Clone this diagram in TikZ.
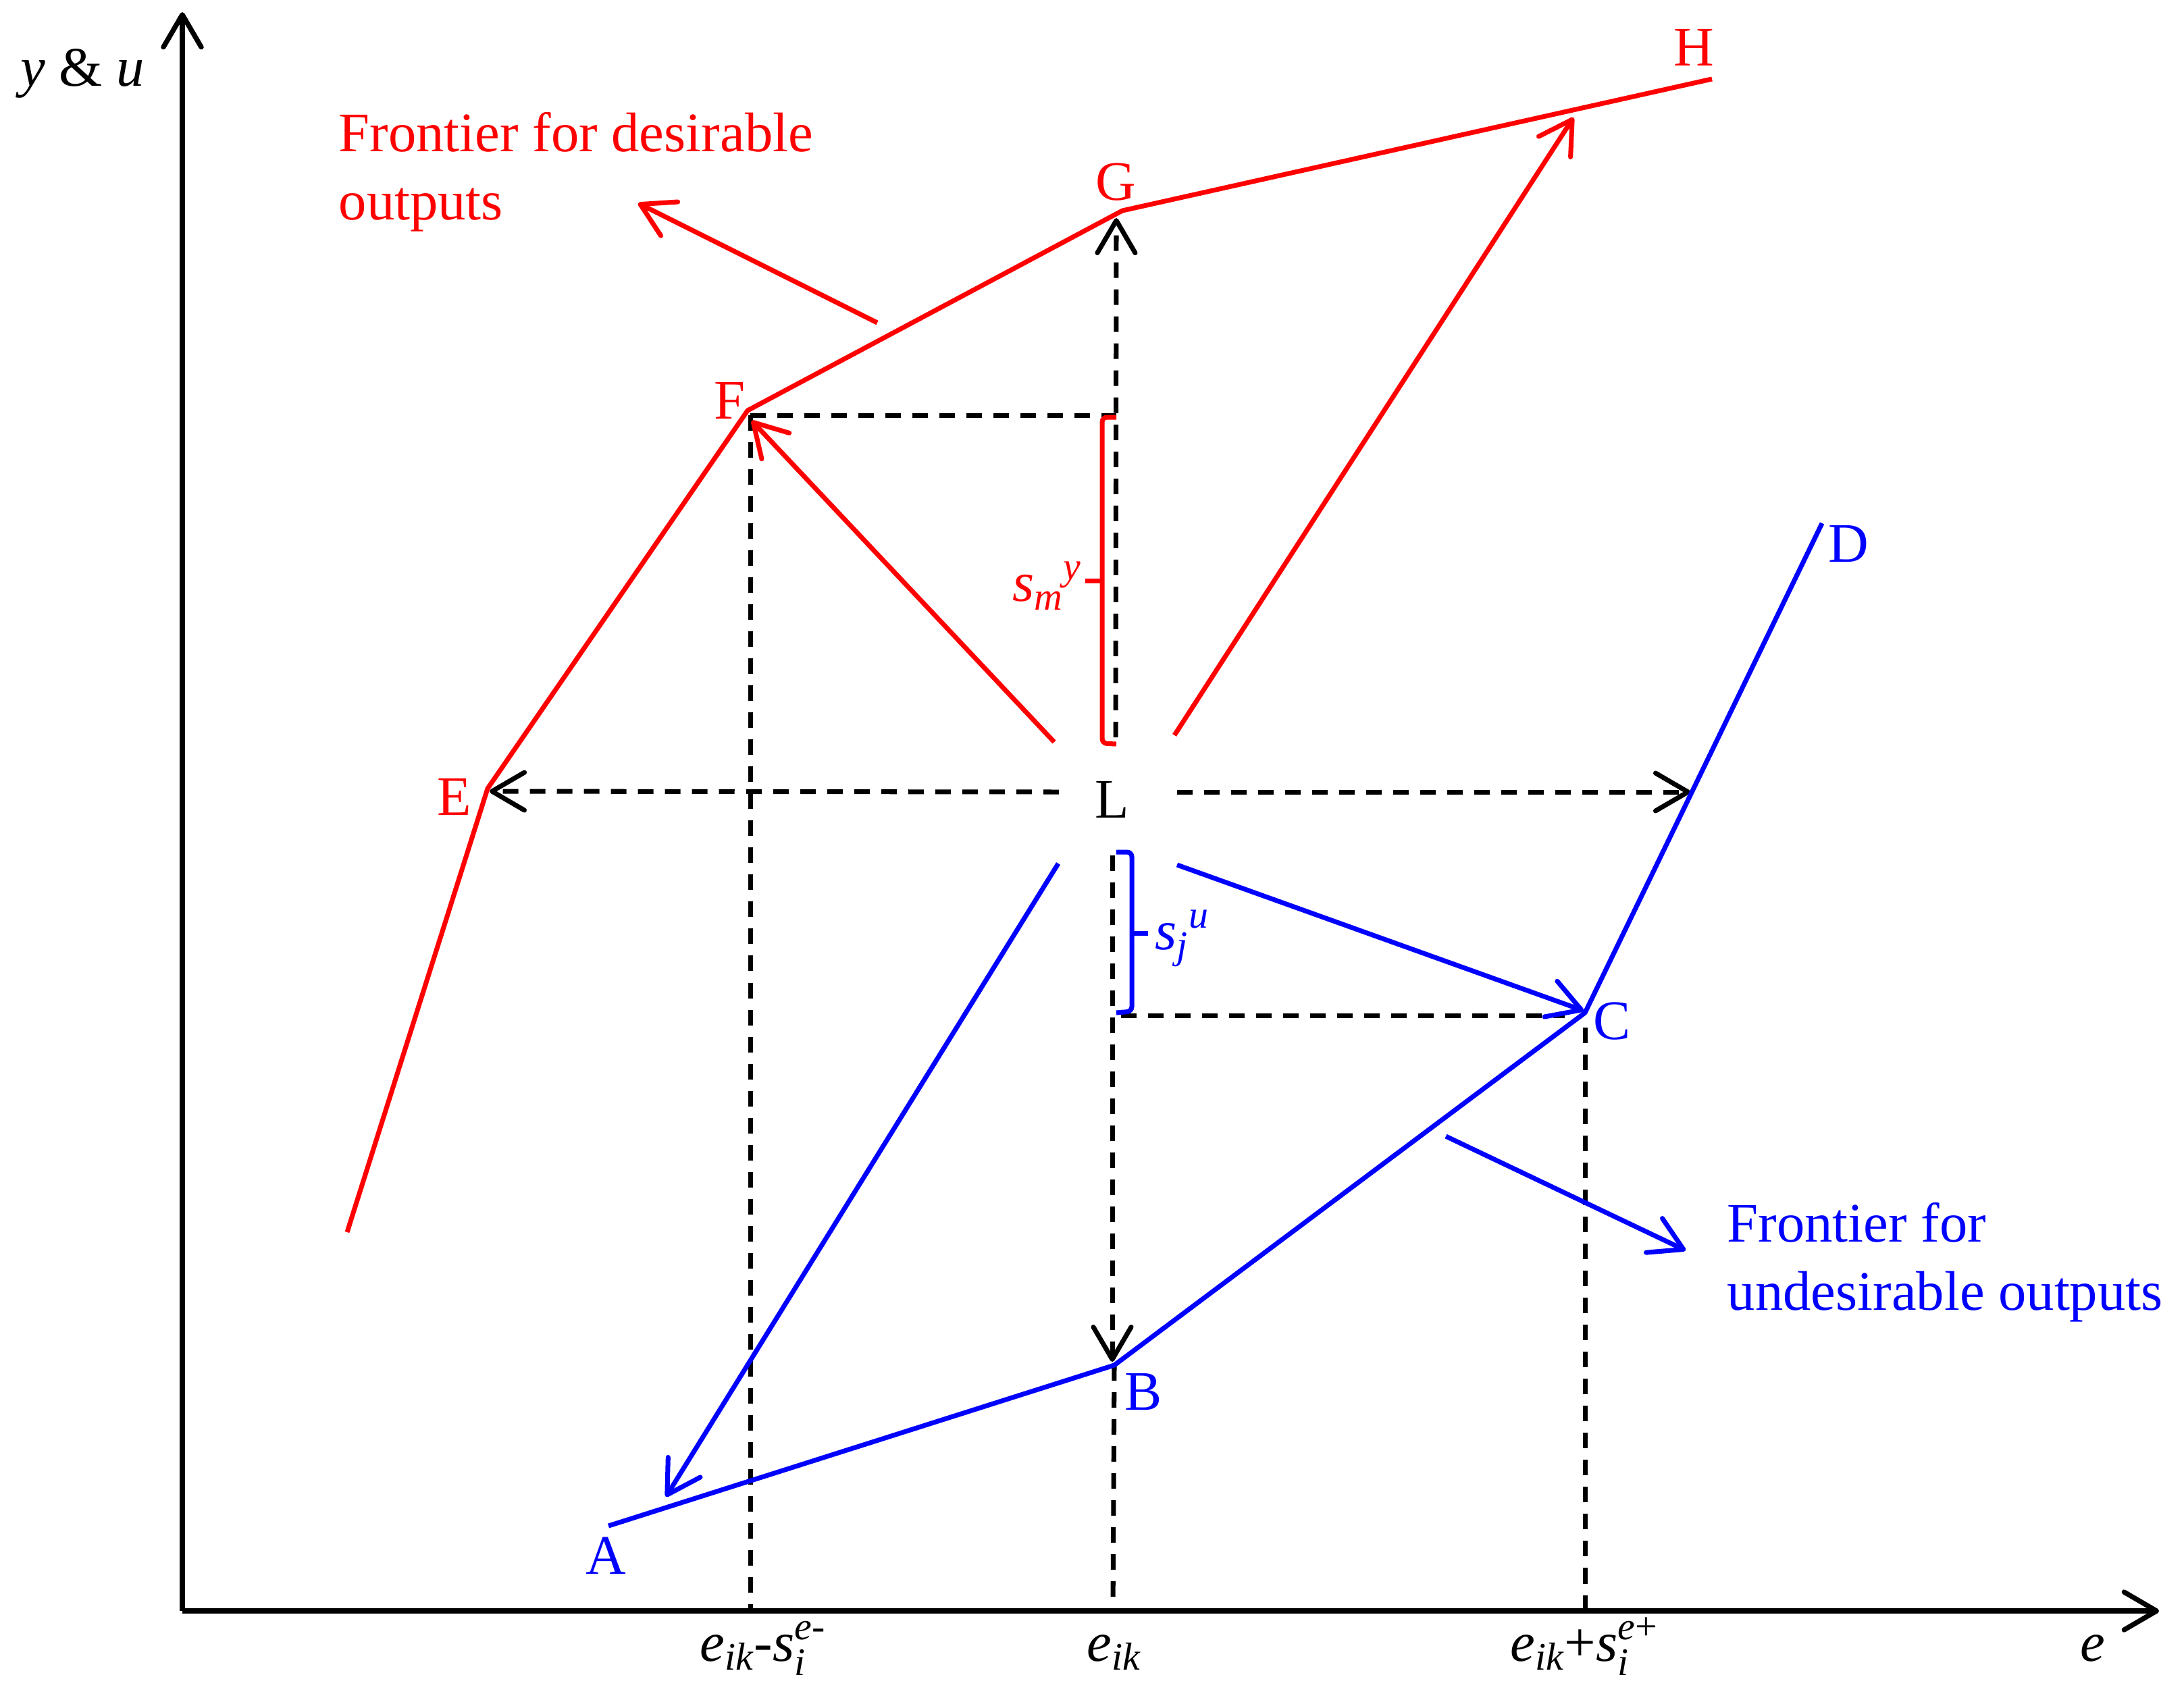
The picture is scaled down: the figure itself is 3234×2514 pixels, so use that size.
\documentclass[tikz,border=0pt]{standalone}
\usepackage{amsmath}
\usepackage{fontspec}
\setmainfont{Liberation Serif}
\usetikzlibrary{arrows.meta}
\newcommand\labfont{\fontsize{23.5}{28.7}\selectfont}
\begin{document}
\begin{tikzpicture}[x=0.01cm,y=-0.01cm,
  redline/.style={draw=red, line width=2pt, line join=round},
  blueline/.style={draw=blue, line width=2pt, line join=round},
  dashline/.style={draw=black, line width=2pt, dash pattern=on 0.23cm off 0.17cm},
  axisline/.style={draw=black, line width=2.1pt},
  barb/.style={-{Straight Barb[length=0.48cm,width=0.56cm,round]}},
  lab/.style={inner sep=0pt, font=\labfont},
  brk/.style={line width=2pt, rounded corners=2pt}]
\fill[white] (0,0) rectangle (3234,2514);
\useasboundingbox (0,0) rectangle (3234,2514);

% axes
\coordinate (O) at (270,2386);
\coordinate (Ytop) at (270,18);
\coordinate (Xend) at (3197,2386);
\draw[axisline,barb] (O) -- (Ytop);
\draw[axisline,barb] (O) -- (Xend);
\node[lab, anchor=base] (ylab) at (122,127) {\textit{y} \& \textit{u}};
\node[lab, anchor=base] (xlab) at (3099,2460) {\textit{e}};

% points
\coordinate (R0) at (514,1825);
\coordinate (E) at (722,1168);
\coordinate (F) at (1107,608);
\coordinate (G) at (1662,312);
\coordinate (H) at (2535,117);
\coordinate (A) at (901,2260);
\coordinate (B) at (1650,2022);
\coordinate (C) at (2347,1500);
\coordinate (D) at (2698,775);

% dashed guide lines
\coordinate (Fd) at (1111,615);
\coordinate (Fh) at (1653,615);
\coordinate (Fx) at (1111,2386);
\coordinate (Bx) at (1648,2386);
\coordinate (Cd) at (2347,1522);
\coordinate (Cx) at (2347,2386);
\coordinate (Ch0) at (1660,1504);
\coordinate (Ch1) at (2317,1504);
\draw[dashline] (Fd) -- (Fh);
\draw[dashline] (Fd) -- (Fx);
\draw[dashline] (B) -- (Bx);
\draw[dashline] (Cd) -- (Cx);
\draw[dashline] (Ch0) -- (Ch1);

% L and its arrows
\node[lab] (L) at (1647,1184) {L};
\coordinate (Le) at (1568,1173);
\coordinate (Et) at (725,1172);
\coordinate (Lr) at (1743,1173);
\coordinate (Dt) at (2503,1173);
\coordinate (Lu) at (1652,1092);
\coordinate (Gt) at (1653,323);
\coordinate (Ld) at (1647,1267);
\coordinate (Bt) at (1647,2017);
\draw[dashline,barb] (Le) -- (Et);
\draw[dashline,barb] (Lr) -- (Dt);
\draw[dashline,barb] (Lu) -- (Gt);
\draw[dashline,barb] (Ld) -- (Bt);

% frontiers
\draw[redline] (R0) -- (E) -- (F) -- (G) -- (H);
\draw[blueline] (A) -- (B) -- (C) -- (D);

\coordinate (Lf) at (1561,1099);
\coordinate (Ft) at (1113,623);
\coordinate (Lh) at (1739,1089);
\coordinate (Ht) at (2330,174);
\coordinate (La) at (1567,1279);
\coordinate (At) at (986,2217);
\coordinate (Lc) at (1743,1281);
\coordinate (Ct) at (2345,1497);
\draw[redline,barb] (Lf) -- (Ft);
\draw[redline,barb] (Lh) -- (Ht);
\draw[blueline,barb] (La) -- (At);
\draw[blueline,barb] (Lc) -- (Ct);

% point labels
\node[lab, text=red] (Elab) at (673,1180) {E};
\node[lab, text=red] (Flab) at (1080,593) {F};
\node[lab, text=red] (Glab) at (1652,270) {G};
\node[lab, text=red] (Hlab) at (2508,70) {H};
\node[lab, text=blue] (Alab) at (897,2304) {A};
\node[lab, text=blue] (Blab) at (1693,2062) {B};
\node[lab, text=blue] (Clab) at (2387,1513) {C};
\node[lab, text=blue] (Dlab) at (2737,806) {D};

% frontier labels
\node[lab, text=red, anchor=north west, align=left] (fd) at (501,166) {Frontier for desirable\\outputs};
\coordinate (fd0) at (1299,478);
\coordinate (fd1) at (945,301);
\draw[redline,barb] (fd0) -- (fd1);
\node[lab, text=blue, anchor=north west, align=left] (fu) at (2557,1781) {Frontier for\\undesirable outputs};
\coordinate (fu0) at (2141,1683);
\coordinate (fu1) at (2496,1852);
\draw[blueline,barb] (fu0) -- (fu1);

% brackets
\draw[brk, red] (1653,618) -- (1632,618) -- (1632,1101) -- (1653,1102);
\draw[line width=2pt, red] (1632,860) -- (1607,860);
\node[lab, text=red, anchor=east] (sy) at (1603,868) {$\textit{s}_{\textit{m}}{}^{\textit{y}}$};
\draw[brk, blue] (1653,1262) -- (1676,1262) -- (1676,1498) -- (1653,1500);
\draw[line width=2pt, blue] (1676,1382) -- (1700,1382);
\node[lab, text=blue, anchor=west] (su) at (1710,1390) {$\textit{s}_{\textit{j}}{}^{\textit{u}}$};

% axis tick labels
\node[lab, anchor=base] (t1) at (1130,2460) {$\textit{e}_{\textit{ik}}$-$\textit{s}_{\textit{i}}^{\textit{e}\textrm{-}}$};
\node[lab, anchor=base] (t2) at (1650,2460) {$\textit{e}_{\textit{ik}}$};
\node[lab, anchor=base] (t3) at (2346,2460) {$\textit{e}_{\textit{ik}}$+$\textit{s}_{\textit{i}}^{\textit{e}\textrm{+}}$};
\end{tikzpicture}
\end{document}
